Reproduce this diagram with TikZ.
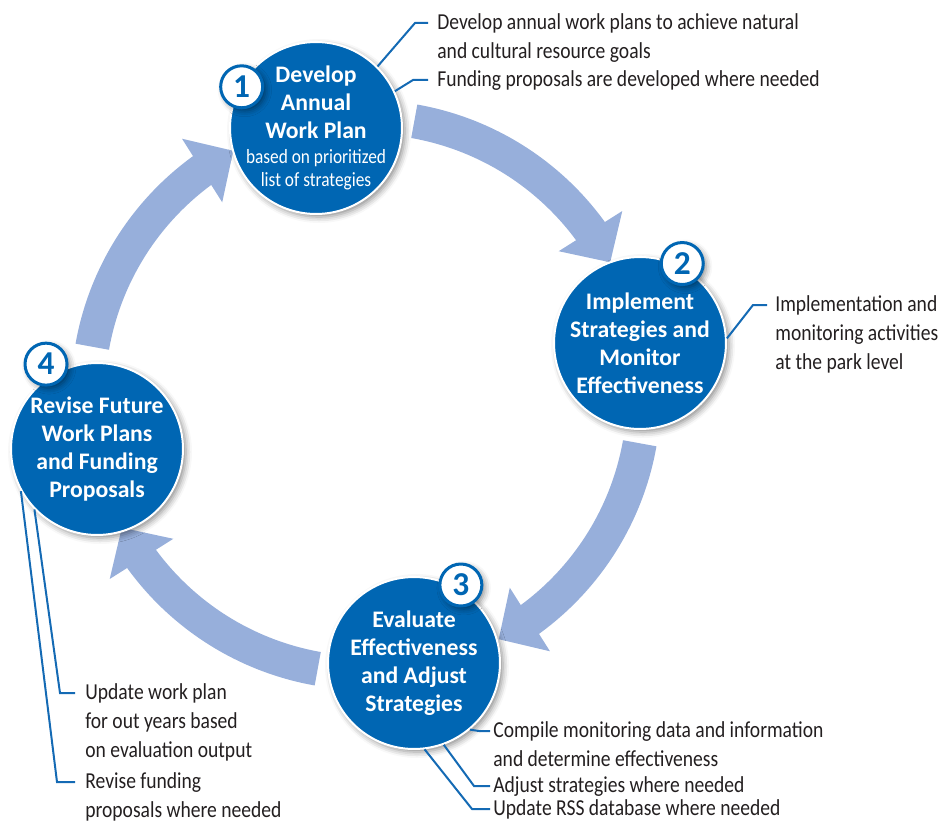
\documentclass[tikz,border=0pt]{standalone}
\usepackage{fontspec}
\setmainfont{Carlito}[FakeStretch=0.857, BoldFeatures={FakeStretch=1.0}]
\usetikzlibrary{arrows.meta, bending, calc, shadows.blur}
\definecolor{npsblue}{RGB}{0,102,179}
\definecolor{bandblue}{RGB}{151,175,219}
\definecolor{linkblue}{RGB}{20,106,180}
\definecolor{inkgray}{RGB}{35,31,32}
\tikzset{
  softshadow/.style={blur shadow={shadow xshift=0.6mm, shadow yshift=-0.6mm, shadow blur radius=1.2mm, shadow opacity=45}},
  stage/.style={circle, fill=npsblue, draw=white, line width=0.04cm, minimum size=3.44cm, inner sep=-0.5cm,
    text=white, align=center, font=\bfseries\fontsize{13.5}{16}\selectfont, softshadow},
  badge/.style={circle, fill=white, draw=npsblue, line width=0.06cm, minimum size=0.84cm, inner sep=0pt,
    text=npsblue, font=\bfseries\fontsize{19}{19}\selectfont, softshadow},
  band/.style={bandblue, line width=0.68cm, -{Triangle[width=1.46cm, length=0.74cm]}},
  link/.style={linkblue, line width=0.04cm},
  note/.style={anchor=north west, inner sep=0pt, align=left, text=inkgray, font=\fontsize{13}{16.4}\selectfont},
}
\newcommand\subline{\mdseries\fontsize{11.5}{13}\selectfont}

\begin{document}
\begin{tikzpicture}[x=0.02cm, y=0.02cm]
    \useasboundingbox (0,0) rectangle (942,823);
    \coordinate (ctr) at (366,428);

    % cycle arrows
    \draw[band] ($(ctr)+(80:5.56cm)$) arc[start angle=80, end angle=28.5, radius=5.56cm];
    \draw[band] ($(ctr)+(-10:5.56cm)$) arc[start angle=-10, end angle=-61.5, radius=5.56cm];
    \draw[band] ($(ctr)+(260:5.56cm)$) arc[start angle=260, end angle=208.5, radius=5.56cm];
    \draw[band] ($(ctr)+(170:5.56cm)$) arc[start angle=170, end angle=118.5, radius=5.56cm];

    % stages
    \node[stage] (c1) at (316,695) {Develop\\Annual\\Work Plan\\[-2pt]\subline based on prioritized\\[-3pt]\subline list of strategies};
    \node[stage] (c2) at (640,480) {Implement\\Strategies and\\Monitor\\Effectiveness};
    \node[stage] (c3) at (414,160) {Evaluate\\Effectiveness\\and Adjust\\Strategies};
    \node[stage] (c4) at (97,374) {Revise Future\\Work Plans\\and Funding\\Proposals};

    \node[badge] (b1) at ($(c1)+(151:85)$) {1};
    \node[badge] (b2) at ($(c2)+(62:90)$) {2};
    \node[badge] (b3) at ($(c3)+(59:91)$) {3};
    \node[badge] (b4) at ($(c4)+(121:99)$) {4};

    % notes
    \node[note] (n1a) at (437,809.5) {Develop annual work plans to achieve natural\\and cultural resource goals};
    \node[note] (n1b) at (437,752.5) {Funding proposals are developed where needed};
    \node[note] (n2) at (775,527.5) {Implementation and\\monitoring activities\\at the park level};
    \node[note] (n3a) at (493,101.5) {Compile monitoring data and information\\and determine effectiveness};
    \node[note] (n3b) at (493,46.5) {Adjust strategies where needed};
    \node[note] (n3c) at (493,23.5) {Update RSS database where needed};
    \node[note] (n4a) at (85,139.5) {Update work plan\\for out years based\\on evaluation output};
    \node[note] (n4b) at (85,50.5) {Revise funding\\proposals where needed};

    % leaders
    \draw[link] (c1.45) -- ([shift={(-22,-9.5)}]n1a.north west) -- ([shift={(-9,-9.5)}]n1a.north west);
    \draw[link] (c1.25) -- ([shift={(-24,-9.5)}]n1b.north west) -- ([shift={(-9,-9.5)}]n1b.north west);
    \draw[link] (c2.3.5) -- ([shift={(-22,-9.5)}]n2.north west) -- ([shift={(-8,-9.5)}]n2.north west);
    \draw[link] (c3.-50) -- ([shift={(-14,-9.5)}]n3a.north west) -- ([shift={(-3,-9.5)}]n3a.north west);
    \draw[link] (c3.-70) -- ([shift={(-19,-9.5)}]n3b.north west) -- ([shift={(-3,-9.5)}]n3b.north west);
    \draw[link] (c3.-83) -- ([shift={(-21,-9.5)}]n3c.north west) -- ([shift={(-3,-9.5)}]n3c.north west);
    \draw[link] (c4.224) -- ([shift={(-25,-9.5)}]n4a.north west) -- ([shift={(-10,-9.5)}]n4a.north west);
    \draw[link] (c4.209) -- ([shift={(-28,-9.5)}]n4b.north west) -- ([shift={(-10,-9.5)}]n4b.north west);
\end{tikzpicture}
\end{document}
